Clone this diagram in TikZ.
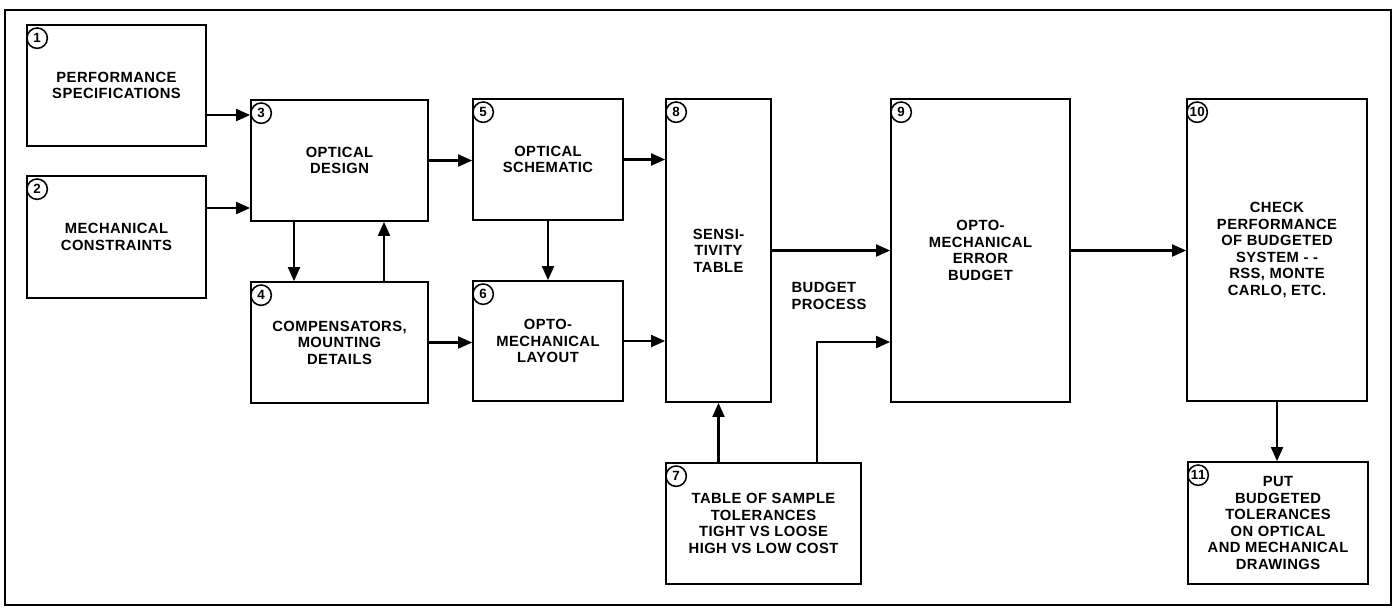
\documentclass[tikz,border=0pt]{standalone}
\usepackage{fontspec}
\setmainfont{Liberation Sans}[LetterSpace=3.0]
\usetikzlibrary{arrows.meta}

\begin{document}
\begin{tikzpicture}[x=0.025cm,y=-0.025cm,
  blk/.style={draw,line width=1.2pt,align=center,inner sep=0pt,
    font=\fontsize{10.5}{11.8}\selectfont\bfseries},
  num/.style={draw,circle,line width=1.1pt,inner sep=0pt,minimum size=14.5pt,
    font=\fontsize{9.5}{10}\selectfont\bfseries},
  arr/.style={line width=1.5pt,-{Triangle[length=10pt,width=8.5pt]}}]
  \useasboundingbox (0,0) rectangle (1398,608);
  \draw[line width=1.3pt] (5,10) rectangle (1391,605);

  \node[blk,minimum width=179*0.025cm,minimum height=121*0.025cm] (b1) at (116.5,85.5) {PERFORMANCE\\SPECIFICATIONS};
  \node[blk,minimum width=179*0.025cm,minimum height=122*0.025cm] (b2) at (116.5,237) {MECHANICAL\\CONSTRAINTS};
  \node[blk,minimum width=177*0.025cm,minimum height=121*0.025cm] (b3) at (339.5,160.5) {OPTICAL\\DESIGN};
  \node[blk,minimum width=177*0.025cm,minimum height=121*0.025cm] (b4) at (339.5,342.5) {COMPENSATORS,\\MOUNTING\\DETAILS};
  \node[blk,minimum width=150*0.025cm,minimum height=121*0.025cm] (b5) at (548,159.5) {OPTICAL\\SCHEMATIC};
  \node[blk,minimum width=150*0.025cm,minimum height=120*0.025cm] (b6) at (548,341) {OPTO-\\MECHANICAL\\LAYOUT};
  \node[blk,minimum width=195*0.025cm,minimum height=121*0.025cm] (b7) at (763.5,523.5) {TABLE OF SAMPLE\\TOLERANCES\\TIGHT VS LOOSE\\HIGH VS LOW COST};
  \node[blk,minimum width=105*0.025cm,minimum height=303*0.025cm] (b8) at (718.5,250.5) {SENSI-\\TIVITY\\TABLE};
  \node[blk,minimum width=179*0.025cm,minimum height=303*0.025cm] (b9) at (980.5,250.5) {OPTO-\\MECHANICAL\\ERROR\\BUDGET};
  \node[blk,minimum width=180*0.025cm,minimum height=302*0.025cm] (b10) at (1277,250) {CHECK\\PERFORMANCE\\OF BUDGETED\\SYSTEM - -\\RSS, MONTE\\CARLO, ETC.};
  \node[blk,minimum width=180*0.025cm,minimum height=122*0.025cm] (b11) at (1278,523) {PUT\\BUDGETED\\TOLERANCES\\ON OPTICAL\\AND MECHANICAL\\DRAWINGS};
  \node[blk,draw=none,align=left] (bp) at (829,296) {BUDGET\\PROCESS};

  \foreach \b/\n in {b1/1,b2/2,b3/3,b4/4,b5/5,b6/6,b7/7,b8/8,b9/9,b10/10,b11/11}
    \node[num] (n\n) at ([shift={(11,14)}]\b.north west) {\n};

  \draw[arr] (b1.east |- 0,115) -- (b3.west |- 0,115);
  \draw[arr] (b2.east |- 0,208) -- (b3.west |- 0,208);
  \draw[arr] (b3.east) -- (b5.west |- b3.east);
  \draw[arr] (b5.east) -- (b8.west |- b5.east);
  \draw[arr] (b3.south -| 294,0) -- (b4.north -| 294,0);
  \draw[arr] (b4.north -| 384,0) -- (b3.south -| 384,0);
  \draw[arr] (b4.east) -- (b6.west |- b4.east);
  \draw[arr] (b6.east) -- (b8.west |- b6.east);
  \draw[arr] (b5.south) -- (b6.north);
  \draw[arr] (b7.north -| b8.south) -- (b8.south);
  \draw[arr] (b7.north -| 817,0) |- (b9.west |- 0,342);
  \draw[arr] (b8.east) -- (b9.west);
  \draw[arr] (b9.east) -- (b10.west |- b9.east);
  \draw[arr] (b10.south) -- (b11.north -| b10.south);
\end{tikzpicture}
\end{document}
